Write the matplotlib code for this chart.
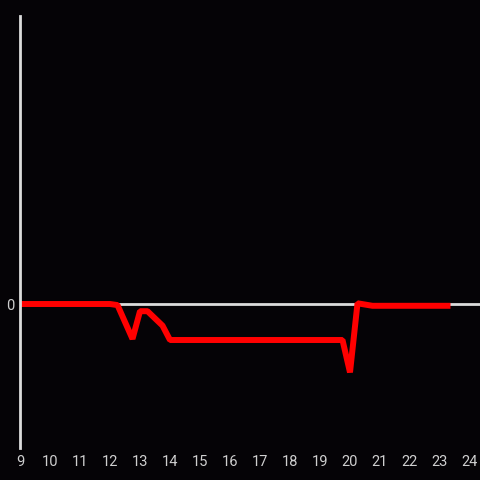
import matplotlib
matplotlib.use("Agg")
import matplotlib.pyplot as plt

hours = [9.0, 12.0, 12.25, 12.75, 13.0, 13.25, 13.75, 14.0, 19.75, 20.0, 20.25, 20.75, 23.25]
values = [0.0, 0.0, -0.03, -0.97, -0.2, -0.2, -0.6, -1.0, -1.0, -1.9, 0.02, -0.05, -0.05]
xticks = list(range(9, 25))
yticks = [0]

bg = "#050306"
axc = "#dcdcdc"
txt = "#cfcfcf"

fig = plt.figure(figsize=(4.8, 4.8), dpi=100, facecolor=bg)
ax = fig.add_axes([20/480, 32/480, 460/480, 432/480], facecolor=bg)

ax.set_xlim(9, 9 + 460/30)
ax.set_ylim(-4, 8)

ax.axhline(0, color=axc, lw=2, zorder=1)
ax.plot(hours, values, color="#ff0000", lw=4.3, solid_joinstyle="bevel", zorder=2)

for s in ["top", "right", "bottom"]:
    ax.spines[s].set_visible(False)
ax.spines["left"].set_color(axc)
ax.spines["left"].set_linewidth(2)

ax.set_xticks(xticks)
ax.set_xticklabels([str(t) for t in xticks])
ax.set_yticks(yticks)
ax.set_yticklabels(["0"])
ax.tick_params(axis="both", length=0, colors=txt, labelsize=10.5)
ax.tick_params(axis="x", pad=5)
ax.tick_params(axis="y", pad=4)
for lab in ax.get_xticklabels() + ax.get_yticklabels():
    lab.set_fontfamily(["Roboto", "DejaVu Sans"])

fig.savefig("out.png", dpi=100, facecolor=bg)
